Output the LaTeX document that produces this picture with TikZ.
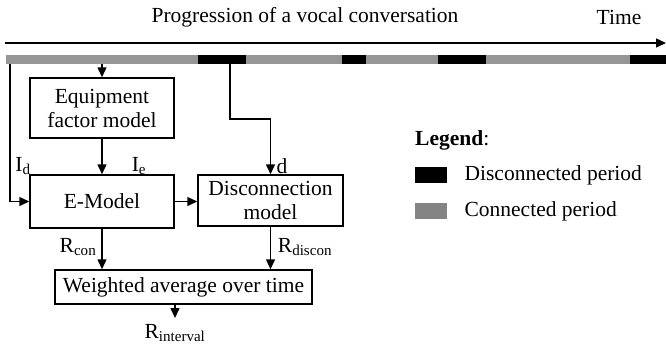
\documentclass[tikz,border=0pt]{standalone}
\usepackage{fontspec}
\setmainfont{Liberation Serif}
\usetikzlibrary{positioning, arrows.meta, calc}
\definecolor{con}{RGB}{150, 150, 150}
\definecolor{con-key}{RGB}{132, 132, 132}
\definecolor{discon}{RGB}{0, 0, 0}
\tikzstyle{arrow} = [black, -{Triangle[length=10pt, width=9pt]}, line width=1.5pt]
\tikzstyle{connector} = [black, -, line width=1.5pt]
\tikzstyle{block} = [draw, line width=1.5pt, align=center, inner sep=0, font=\fontsize{21.5pt}{24pt}\selectfont]
\tikzstyle{sig} = [inner sep=0, font=\fontsize{21.5pt}{24pt}\selectfont]
\newcommand{\tikzperiod}[3]{\fill[#1] (#2, 55) rectangle (#3, 64);}
\newcommand{\tikzkeynode}[1]{\node[
  draw=none, fill=#1, minimum width=32pt, minimum height=16pt, inner sep=0, anchor=north west
]}

\begin{document}
\begin{tikzpicture}[x=1pt, y=-1pt]
    \useasboundingbox (0, 0) rectangle (666, 349);

    % time axis
    \node[sig] (title) at (305, 17) {Progression of a vocal conversation};
    \node[sig] (time)  at (619, 17) {Time};
    \coordinate (t0) at (5, 43);
    \coordinate (t1) at (666, 43);
    \draw[arrow] (t0) -- (t1);

    % periods
    \tikzperiod{con}{6}{198}
    \tikzperiod{discon}{198}{246}
    \tikzperiod{con}{246}{342}
    \tikzperiod{discon}{342}{366}
    \tikzperiod{con}{366}{438}
    \tikzperiod{discon}{438}{486}
    \tikzperiod{con}{486}{630}
    \tikzperiod{discon}{630}{666}
    \coordinate (tapd) at (10, 64);
    \coordinate (tape) at (102, 64);
    \coordinate (tapk) at (230, 64);

    % blocks
    \node[block, minimum width=144pt, minimum height=60pt] (equip)  at (102, 108)   {Equipment\\factor model};
    \node[block, minimum width=144pt, minimum height=53pt] (emodel) at (102, 201.5) {E-Model};
    \node[block, minimum width=145pt, minimum height=51pt] (discon) at (270.5, 200.5) {Disconnection\\model};
    \node[block, minimum width=257pt, minimum height=34pt] (avg)    at (183.5, 287) {Weighted average over time};
    \coordinate (out) at (175, 318);
    \node[sig] (rint) at (175, 333) {R\textsubscript{interval}};

    % arrows
    \draw[arrow] (tapd) |- (emodel.west);
    \draw[arrow] (tape) -- (equip.north);
    \draw[arrow] (equip.south) -- (emodel.north);
    \draw[arrow] (emodel.east) -- (emodel.east -| discon.west);
    \draw[arrow] (tapk) -- ++(0, 55) -| (discon.north);
    \draw[arrow] (emodel.south) -- (emodel.south |- avg.north);
    \draw[arrow] (discon.south) -- (discon.south |- avg.north);
    \draw[arrow] (avg.south -| out) -- (out);

    % signal labels
    \node[sig] (id)   at (23, 166)  {I\textsubscript{d}};
    \node[sig] (ie)   at (139, 166) {I\textsubscript{e}};
    \node[sig] (d)    at (282, 166) {d};
    \node[sig] (rcon) at (78, 247)  {R\textsubscript{con}};
    \node[sig] (rdis) at (305, 247) {R\textsubscript{discon}};

    % legend
    \node[sig, anchor=west] (legend) at (415, 140) {\textbf{Legend}:};
    \tikzkeynode{discon}  at (415, 167) (keyd) {};
    \tikzkeynode{con-key} at (415, 203) (keyc) {};
    \node[sig, right=17pt of keyd] (keyd-text) {Disconnected period};
    \node[sig, right=17pt of keyc] (keyc-text) {Connected period};
  \end{tikzpicture}
\end{document}
